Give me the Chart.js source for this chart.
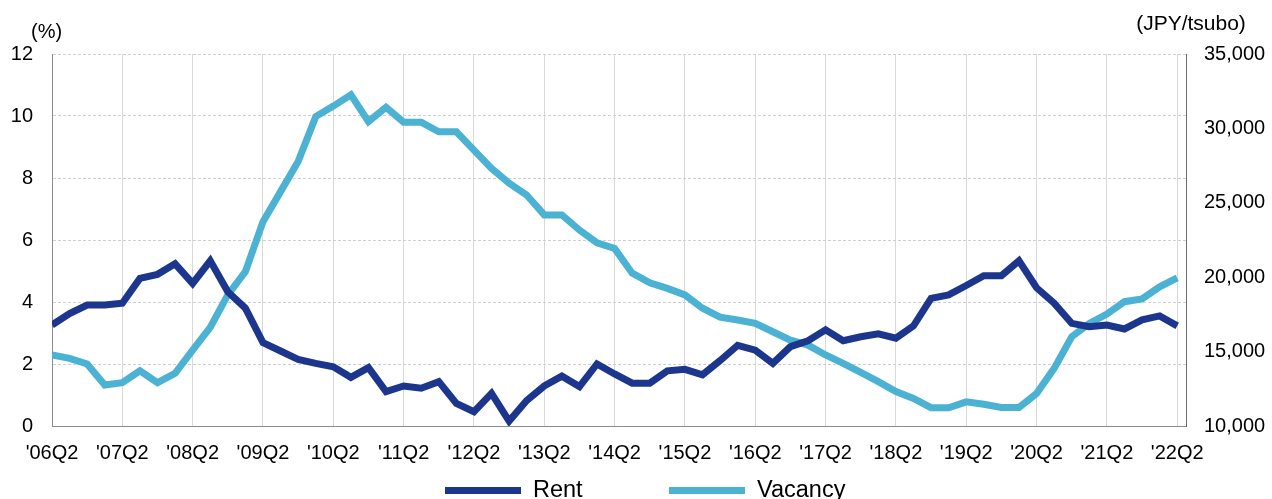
<!DOCTYPE html>
<html>
<head>
<meta charset="utf-8">
<script src="https://cdn.jsdelivr.net/npm/chart.js@4.4.1/dist/chart.umd.min.js"></script>
<style>
  html, body { margin: 0; padding: 0; background: #ffffff; }
  #wrap { position: relative; width: 1272px; height: 499px; overflow: hidden; }
  canvas { position: absolute; left: 0; top: 0; }
  .lg { position: absolute; top: 478px; font-family: "Liberation Sans", Arial, sans-serif; font-size: 23.5px; line-height: 23px; color: #000; white-space: nowrap; }
  .lg .bar { position: absolute; top: 9px; width: 76px; height: 7px; }
  .lg .txt { position: absolute; }
</style>
</head>
<body>
<div id="wrap">
  <canvas id="c" width="1272" height="499"></canvas>
  <div class="lg" style="left:445px;"><span class="bar" style="left:0;background:#1B368C;"></span><span class="txt" id="lg0" style="left:88px;"></span></div>
  <div class="lg" style="left:669px;"><span class="bar" style="left:0;background:#4BB2D4;"></span><span class="txt" id="lg1" style="left:88px;"></span></div>
</div>
<script>
// Quarter categories ('06Q2 .. '22Q2)
const quarters = [
  "'06Q2","'06Q3","'06Q4","'07Q1","'07Q2","'07Q3","'07Q4","'08Q1",
  "'08Q2","'08Q3","'08Q4","'09Q1","'09Q2","'09Q3","'09Q4","'10Q1",
  "'10Q2","'10Q3","'10Q4","'11Q1","'11Q2","'11Q3","'11Q4","'12Q1",
  "'12Q2","'12Q3","'12Q4","'13Q1","'13Q2","'13Q3","'13Q4","'14Q1",
  "'14Q2","'14Q3","'14Q4","'15Q1","'15Q2","'15Q3","'15Q4","'16Q1",
  "'16Q2","'16Q3","'16Q4","'17Q1","'17Q2","'17Q3","'17Q4","'18Q1",
  "'18Q2","'18Q3","'18Q4","'19Q1","'19Q2","'19Q3","'19Q4","'20Q1",
  "'20Q2","'20Q3","'20Q4","'21Q1","'21Q2","'21Q3","'21Q4","'22Q1",
  "'22Q2"
];

// Rent (JPY/tsubo, right axis)
const rent = [
  16790, 17560, 18130, 18130, 18250, 19920, 20190, 20900,
  19580, 21100, 19020, 17920, 15600, 15040, 14480, 14210,
  13980, 13270, 13920, 12310, 12690, 12540, 12980, 11520,
  10960, 12190, 10330, 11710, 12690, 13350, 12650, 14170,
  13500, 12880, 12880, 13710, 13810, 13440, 14400, 15420,
  15100, 14210, 15330, 15730, 16460, 15730, 16000, 16190,
  15900, 16730, 18580, 18810, 19440, 20100, 20100, 21100,
  19290, 18250, 16900, 16670, 16790, 16520, 17130, 17400,
  16730
];

// Vacancy rate (%, left axis)
const vacancy = [
  2.29, 2.18, 2.00, 1.32, 1.40, 1.78, 1.40, 1.70,
  2.45, 3.18, 4.23, 4.98, 6.59, 7.56, 8.53, 9.98,
  10.32, 10.68, 9.82, 10.28, 9.80, 9.80, 9.49, 9.49,
  8.90, 8.31, 7.83, 7.45, 6.81, 6.81, 6.32, 5.91,
  5.73, 4.93, 4.62, 4.44, 4.23, 3.80, 3.51, 3.42,
  3.31, 3.04, 2.77, 2.61, 2.29, 2.02, 1.73, 1.43,
  1.11, 0.89, 0.59, 0.59, 0.78, 0.70, 0.60, 0.60,
  1.05, 1.86, 2.88, 3.31, 3.61, 4.01, 4.10, 4.49,
  4.78
];

// Tick labels shown on the x axis (every 4th quarter)
const xTickLabels = ["'06Q2","'07Q2","'08Q2","'09Q2","'10Q2","'11Q2","'12Q2","'13Q2","'14Q2","'15Q2","'16Q2","'17Q2","'18Q2","'19Q2","'20Q2","'21Q2","'22Q2"];
const leftTicks = [0, 2, 4, 6, 8, 10, 12];
const rightTicks = [10000, 15000, 20000, 25000, 30000, 35000];
const seriesNames = ["Rent", "Vacancy"];
const axisTitles = ["(%)", "(JPY/tsubo)"];

const FONT = "'Liberation Sans', Arial, sans-serif";
document.getElementById('lg0').textContent = seriesNames[0];
document.getElementById('lg1').textContent = seriesNames[1];

const titlesPlugin = {
  id: 'axisTitles',
  afterDraw(chart) {
    const ctx = chart.ctx;
    const a = chart.chartArea;
    ctx.save();
    ctx.fillStyle = '#000';
    ctx.textBaseline = 'alphabetic';
    ctx.font = '20px ' + FONT;
    ctx.textAlign = 'left';
    ctx.fillText(axisTitles[0], a.left - 21, a.top - 16);
    ctx.font = '21px ' + FONT;
    ctx.textAlign = 'center';
    ctx.fillText(axisTitles[1], a.right + 5, a.top - 24);
    ctx.restore();
  }
};

new Chart(document.getElementById('c'), {
  type: 'line',
  data: {
    datasets: [
      {
        label: seriesNames[0],
        data: rent.map((v, i) => ({ x: i, y: v })),
        yAxisID: 'yR',
        borderColor: '#1B368C',
        backgroundColor: '#1B368C',
        borderWidth: 7,
        pointRadius: 0,
        tension: 0,
        order: 0
      },
      {
        label: seriesNames[1],
        data: vacancy.map((v, i) => ({ x: i, y: v })),
        yAxisID: 'yL',
        borderColor: '#4BB2D4',
        backgroundColor: '#4BB2D4',
        borderWidth: 7,
        pointRadius: 0,
        tension: 0,
        order: 1
      }
    ]
  },
  options: {
    responsive: false,
    animation: false,
    events: [],
    layout: { padding: { top: 54, bottom: 0, left: 0, right: 0 } },
    plugins: { legend: { display: false }, tooltip: { enabled: false }, title: { display: false } },
    scales: {
      x: {
        type: 'linear',
        min: 0,
        max: 64.5,
        afterBuildTicks: (s) => { s.ticks = xTickLabels.map((_, k) => ({ value: k * 4 })); },
        afterFit: (s) => { s.height = 73; },
        ticks: {
          autoSkip: false,
          maxRotation: 0,
          padding: 15,
          color: '#000',
          font: { family: FONT, size: 20 },
          callback: (v) => xTickLabels[Math.round(v / 4)] || ''
        },
        grid: { color: '#d9d9d9', lineWidth: 1, drawTicks: false },
        border: { display: true, color: '#8c8c8c', width: 1 }
      },
      yL: {
        type: 'linear',
        position: 'left',
        min: 0,
        max: 12,
        afterBuildTicks: (s) => { s.ticks = leftTicks.map(v => ({ value: v })); },
        afterFit: (s) => { s.width = 52; },
        ticks: { padding: 19, color: '#000', font: { family: FONT, size: 20 } },
        grid: { color: '#cfcfcf', lineWidth: 1, drawTicks: false },
        border: { display: true, color: '#8c8c8c', width: 1, dash: [3, 2] }
      },
      yR: {
        type: 'linear',
        position: 'right',
        min: 10000,
        max: 35000,
        afterBuildTicks: (s) => { s.ticks = rightTicks.map(v => ({ value: v })); },
        afterFit: (s) => { s.width = 86; },
        ticks: {
          padding: 18,
          color: '#000',
          font: { family: FONT, size: 20 },
          callback: (v) => v.toLocaleString('en-US')
        },
        grid: { drawOnChartArea: false, drawTicks: false },
        border: { display: true, color: '#6b6b6b', width: 1 }
      }
    }
  },
  plugins: [titlesPlugin]
});
</script>
</body>
</html>
